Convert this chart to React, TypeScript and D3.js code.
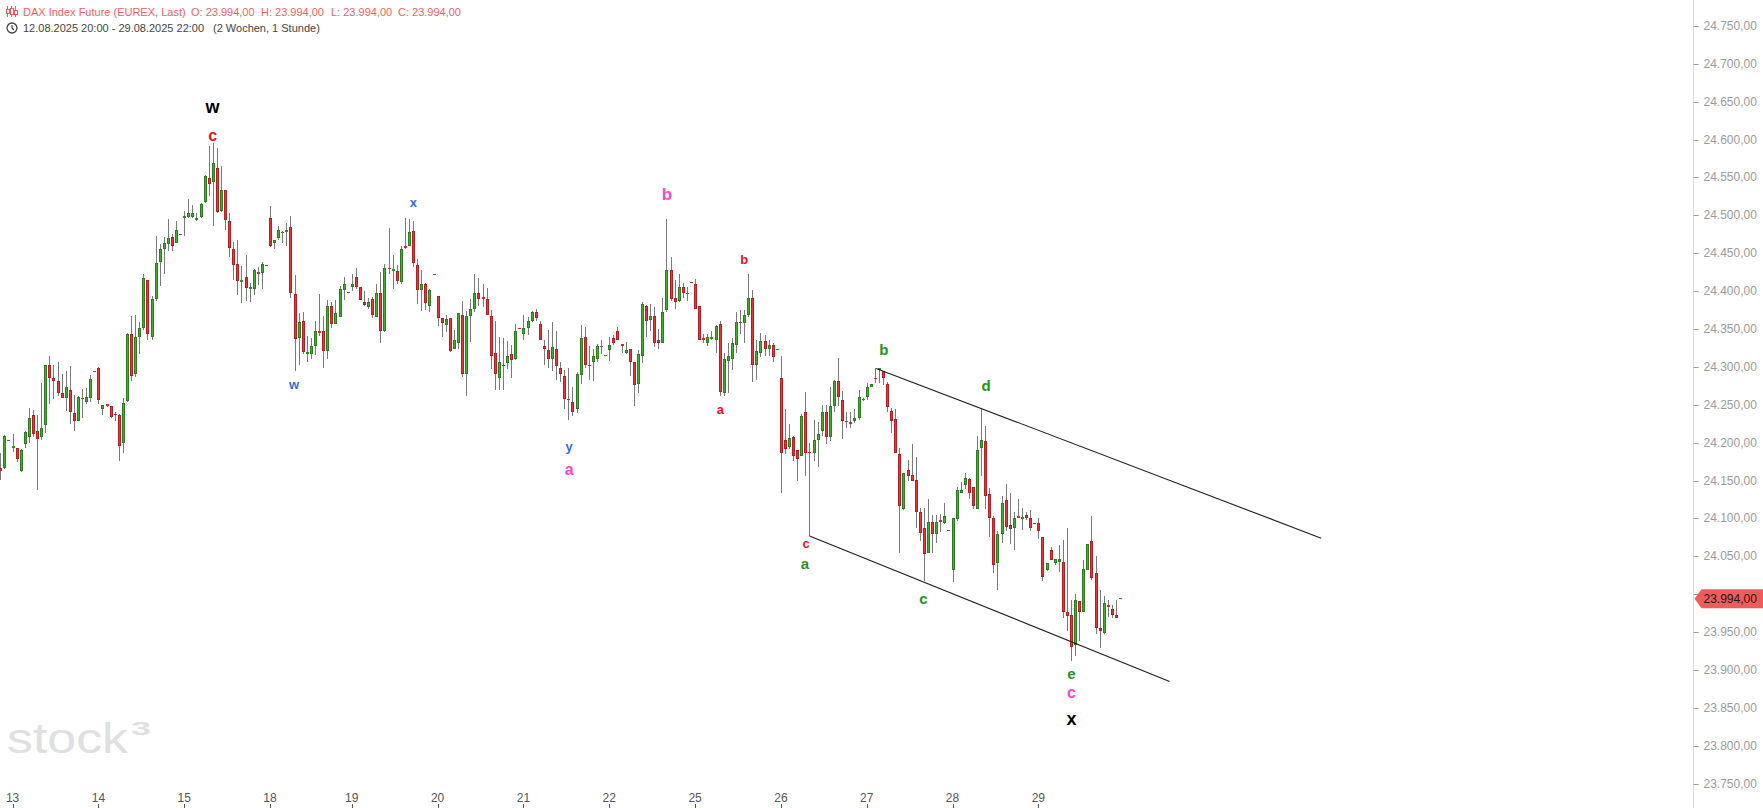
import React from 'react';
import * as d3 from 'd3';

const W = 1763;
const H = 808;

// OHLC per hourly candle (12.08.2025 20:00 – 29.08.2025 22:00)
const opens = [
24166,24166,24203,24193,24193,24162,24198,24208,24237,24216,24208,24224,24302,24286,24282,24265,24259,24270,24239,24229,
24259,24254,24259,24294,24299,24245,24251,24249,24238,24237,24199,24255,24343,24290,24339,24352,24415,24339,24390,24438,
24455,24462,24472,24463,24475,24496,24498,24498,24494,24498,24517,24549,24544,24563,24506,24533,24492,24455,24436,24412,
24418,24403,24403,24425,24424,24434,24496,24463,24470,24478,24478,24484,24396,24338,24361,24317,24317,24327,24348,24347,
24321,24380,24357,24366,24402,24399,24406,24419,24406,24385,24379,24390,24366,24397,24347,24431,24427,24427,24412,24459,
24460,24480,24434,24401,24409,24381,24422,24393,24364,24355,24364,24323,24331,24368,24290,24367,24377,24398,24392,24389,
24367,24318,24286,24303,24305,24317,24311,24352,24344,24351,24360,24372,24357,24328,24322,24311,24323,24298,24288,24258,
24254,24244,24289,24340,24302,24306,24310,24326,24316,24322,24338,24347,24330,24318,24323,24306,24277,24314,24381,24362,
24367,24335,24331,24375,24428,24391,24387,24406,24397,24412,24410,24381,24338,24331,24337,24335,24357,24265,24308,24310,
24329,24359,24358,24368,24391,24302,24318,24334,24324,24329,24323,24286,24204,24194,24208,24190,24183,24241,24188,24187,
24204,24216,24241,24208,24249,24282,24256,24229,24227,24228,24232,24256,24260,24274,24286,24296,24294,24278,24242,24231,
24185,24112,24164,24157,24151,24108,24087,24054,24096,24079,24098,24094,24085,24032,24099,24133,24144,24152,24141,24113,
24193,24202,24132,24101,24041,24080,24125,24091,24087,24103,24099,24104,24101,24094,24094,24075,24032,24059,24041,24042,
24043,23976,23972,23933,23991,23976,24032,24070,24028,23955,23949,23986,23981,23972,23995,
];
const highs = [
24186,24210,24203,24211,24193,24192,24216,24246,24243,24237,24279,24303,24314,24303,24306,24291,24295,24301,24263,24261,
24271,24272,24289,24294,24300,24250,24251,24249,24240,24238,24259,24345,24367,24368,24359,24423,24415,24393,24473,24462,
24471,24495,24476,24492,24475,24506,24521,24514,24503,24516,24553,24591,24595,24589,24565,24533,24503,24465,24467,24433,
24448,24411,24429,24432,24439,24434,24512,24467,24486,24479,24490,24499,24421,24371,24373,24341,24338,24361,24396,24367,
24388,24386,24388,24407,24418,24399,24423,24430,24406,24400,24391,24392,24410,24425,24436,24483,24448,24434,24460,24496,
24495,24492,24442,24428,24411,24403,24423,24393,24364,24368,24364,24349,24371,24387,24374,24390,24423,24417,24409,24404,
24375,24361,24339,24338,24334,24329,24357,24352,24368,24366,24374,24376,24360,24336,24349,24359,24347,24306,24296,24298,
24273,24293,24355,24353,24328,24324,24330,24336,24316,24340,24342,24353,24330,24333,24324,24306,24322,24386,24382,24383,
24379,24350,24391,24495,24445,24415,24423,24411,24406,24412,24416,24381,24343,24343,24347,24355,24360,24318,24332,24338,
24372,24375,24375,24423,24402,24336,24345,24342,24336,24332,24323,24314,24244,24225,24209,24191,24238,24267,24200,24230,
24227,24250,24250,24274,24283,24312,24268,24240,24240,24245,24270,24259,24279,24278,24298,24298,24295,24280,24246,24245,
24193,24160,24177,24198,24181,24114,24114,24126,24105,24105,24106,24120,24085,24101,24142,24148,24160,24154,24142,24209,
24244,24222,24140,24103,24083,24129,24146,24133,24108,24126,24114,24109,24111,24094,24101,24076,24041,24063,24046,24065,
24072,24087,23992,24000,23991,24045,24066,24103,24050,24006,23998,23993,23986,23993,23995,
];
const lows = [
24151,24165,24202,24188,24175,24161,24193,24200,24208,24137,24203,24213,24251,24258,24262,24259,24242,24225,24216,24228,
24233,24251,24254,24293,24251,24237,24247,24233,24229,24176,24187,24254,24282,24287,24317,24349,24335,24335,24387,24407,
24422,24453,24453,24463,24474,24473,24497,24497,24492,24497,24516,24525,24486,24503,24505,24481,24445,24415,24395,24384,
24387,24386,24395,24408,24403,24433,24458,24455,24467,24464,24459,24391,24295,24303,24317,24307,24311,24316,24341,24299,
24311,24352,24356,24366,24388,24398,24400,24403,24388,24381,24377,24364,24366,24332,24346,24422,24403,24410,24410,24456,
24460,24432,24383,24374,24375,24373,24421,24354,24340,24346,24320,24323,24324,24287,24261,24333,24373,24381,24379,24368,
24297,24270,24270,24270,24297,24286,24309,24351,24336,24342,24359,24361,24335,24302,24299,24295,24283,24280,24245,24230,
24235,24239,24278,24299,24283,24281,24307,24317,24315,24308,24329,24335,24318,24317,24288,24248,24266,24305,24340,24347,
24326,24324,24331,24373,24387,24377,24386,24391,24387,24411,24377,24335,24331,24327,24335,24319,24261,24262,24266,24296,
24319,24344,24332,24366,24280,24283,24313,24314,24314,24307,24322,24134,24185,24192,24176,24150,24183,24156,24077,24176,
24168,24209,24198,24202,24241,24248,24205,24220,24220,24226,24230,24255,24256,24274,24279,24279,24276,24240,24213,24186,
24055,24111,24149,24149,24088,24070,24017,24054,24055,24067,24082,24093,24084,24016,24097,24133,24139,24126,24113,24113,
24156,24113,24076,24028,24005,24068,24084,24066,24059,24100,24085,24098,24084,24093,24073,24018,24031,24045,24038,24030,
23968,23952,23912,23919,23938,23976,24032,24019,23948,23929,23947,23970,23968,23968,23994,
];
const closes = [
24162,24209,24202,24196,24178,24191,24214,24232,24212,24205,24220,24302,24286,24282,24266,24259,24274,24240,24228,24260,
24257,24260,24284,24293,24256,24250,24248,24234,24237,24195,24252,24343,24288,24339,24352,24417,24343,24390,24437,24455,
24463,24470,24460,24481,24474,24499,24503,24503,24497,24515,24552,24541,24569,24505,24533,24494,24457,24435,24414,24415,
24404,24405,24428,24423,24436,24433,24459,24467,24481,24477,24481,24397,24337,24359,24320,24320,24328,24348,24345,24321,
24380,24356,24371,24403,24410,24398,24410,24406,24388,24382,24386,24368,24397,24348,24431,24430,24429,24414,24456,24457,
24478,24437,24401,24410,24384,24401,24421,24364,24358,24363,24321,24336,24371,24291,24367,24377,24397,24389,24389,24368,
24314,24290,24306,24302,24315,24309,24347,24351,24351,24360,24373,24364,24335,24324,24311,24326,24301,24290,24257,24257,
24241,24291,24338,24302,24301,24314,24328,24328,24315,24329,24332,24335,24327,24322,24307,24276,24317,24383,24360,24367,
24332,24332,24372,24428,24390,24385,24406,24398,24398,24411,24377,24335,24336,24340,24339,24354,24267,24310,24314,24331,
24359,24358,24369,24391,24302,24321,24334,24324,24329,24313,24322,24186,24192,24206,24183,24179,24235,24187,24187,24204,
24212,24241,24207,24249,24282,24260,24228,24228,24225,24233,24260,24258,24273,24277,24284,24298,24286,24247,24228,24186,
24116,24160,24156,24150,24109,24081,24053,24096,24079,24095,24095,24103,24084,24100,24138,24137,24154,24133,24116,24190,
24204,24129,24101,24039,24079,24121,24089,24086,24101,24100,24102,24100,24087,24093,24084,24023,24041,24045,24046,24046,
23976,23971,23931,23993,23976,24033,24066,24021,23955,23951,23988,23983,23972,23969,23994,
];

const dayLabels = ['13', '14', '15', '18', '19', '20', '21', '22', '25', '26', '27', '28', '29'];
const dayStartIdx = [3, 24, 45, 66, 86, 107, 128, 149, 170, 191, 212, 233, 254];
const priceTicks = d3.range(23750, 24751, 50);
const lastPrice = 23994;

const headerTitle = 'DAX Index Future (EUREX, Last)';
const headerOHLC = ['O: 23.994,00', 'H: 23.994,00', 'L: 23.994,00', 'C: 23.994,00'];
const headerRange = '12.08.2025 20:00 - 29.08.2025 22:00';
const headerPeriod = '(2 Wochen, 1 Stunde)';

// wave labels: text, candle index position, price position, colour, size
const waveText = ['w', 'c', 'x', 'w', 'b', 'b', 'a', 'y', 'a', 'c', 'a', 'b', 'd', 'c', 'e', 'c', 'x'];
const waveIdx = [51.9, 52, 101.1, 71.9, 163.1, 182.0, 176.2, 139.2, 139.2, 197.2, 196.9, 216.2, 241.2, 225.9, 262.1, 262.1, 262.1];
const wavePrice = [24643, 24606, 24517, 24277, 24528, 24442, 24244, 24195, 24165, 24067, 24041, 24323, 24275, 23995, 23895, 23870, 23836];
const waveColor = ['#000000', '#e8141b', '#2f6fd6', '#2f6fd6', '#ff45cf', '#e8141b', '#e8141b', '#2f6fd6', '#ff45cf', '#e8141b', '#1c951c', '#1c951c', '#1c951c', '#1c951c', '#1c951c', '#ff45cf', '#000000'];
const waveSize = [18, 16, 13, 13, 17, 13, 13, 13, 16, 13, 15, 15, 15, 15, 15, 16, 18];

const upperChannel: [number, number][] = [[214.3, 24298], [323.2, 24074]];
const lowerChannel: [number, number][] = [[198.0, 24077], [286.1, 23885]];

const FONT = '"Liberation Sans", Arial, Helvetica, sans-serif';

const deLocale = d3.formatLocale({ decimal: ',', thousands: '.', grouping: [3], currency: ['', '€'] });
const fmtPrice = deLocale.format(',.2f');

export default function App() {
  const x = d3.scaleLinear().domain([0, 274]).range([0.3, 1120.1]);
  const y = d3.scaleLinear().domain([23750, 24750]).range([783.7, 25.9]);
  const axisX = 1693.5;

  const candles = opens.map((o, i) => {
    const c = closes[i];
    const h = highs[i];
    const l = lows[i];
    const up = c > o;
    const R = Math.round(x(i));
    const top = Math.round(y(Math.max(o, c)));
    const bot = Math.round(y(Math.min(o, c)));
    const bh = Math.max(1, bot - top);
    const wt = Math.round(y(h));
    const wb = Math.round(y(l));
    const border = up ? '#2b7d1f' : '#b51d22';
    const fill = up ? '#3fb02c' : '#e8363b';
    return (
      <g key={i}>
        {wb - wt > bh && <rect x={R} y={wt} width={1} height={Math.max(1, wb - wt)} fill="#7a7a7a" />}
        <rect x={R - 1} y={top} width={3} height={bh} fill={bh <= 2 ? (up ? '#2f8f22' : '#d22a2f') : border} />
        {bh > 2 && <rect x={R} y={top + 1} width={1} height={bh - 2} fill={fill} />}
      </g>
    );
  });

  const lineGen = d3.line<[number, number]>().x((d) => x(d[0])).y((d) => y(d[1]));

  const lpY = y(lastPrice);
  const visibleTicks = priceTicks.filter((p) => Math.abs(y(p) - lpY) > 12);

  return (
    <svg
      width={W}
      height={H}
      viewBox={`0 0 ${W} ${H}`}
      style={{ position: 'absolute', left: 0, top: 0, background: '#ffffff' }}
      fontFamily={FONT}
    >
      <rect x={0} y={0} width={W} height={H} fill="#ffffff" />

      {/* watermark */}
      <text x={7} y={753} fontSize={42} fill="#e0e0e0" textLength={121} lengthAdjust="spacingAndGlyphs" fontFamily={FONT}>
        stock
      </text>
      <text x={131} y={735} fontSize={19} fontWeight="bold" fill="#e0e0e0" textLength={20} lengthAdjust="spacingAndGlyphs">
        3
      </text>

      {/* header */}
      <g>
        <g stroke="#ee5a5a" strokeWidth={1} fill="none" shapeRendering="crispEdges">
          <line x1={7.5} y1={6} x2={7.5} y2={17} />
          <rect x={6} y={9.5} width={3} height={4} fill="#ffffff" />
          <line x1={11.5} y1={6} x2={11.5} y2={17} />
          <rect x={10} y={8.5} width={3} height={6} fill="#ffffff" />
          <line x1={15.5} y1={6} x2={15.5} y2={17} />
          <rect x={14} y={10.5} width={3} height={4} fill="#ffffff" />
        </g>
        <circle cx={12} cy={28} r={5} fill="none" stroke="#444" strokeWidth={1.3} />
        <path d="M12 25 V28 L14 30" fill="none" stroke="#444" strokeWidth={1.2} />
        <text x={23} y={16} fontSize={11} fill="#f05f5f">
          {headerTitle}
        </text>
        {headerOHLC.map((t, k) => (
          <text key={t + k} x={[191, 261, 331, 398][k]} y={16} fontSize={11} fill="#f05f5f">
            {t}
          </text>
        ))}
        <text x={23} y={32} fontSize={11} fill="#444444">
          {headerRange}
        </text>
        <text x={213} y={32} fontSize={11} fill="#444444">
          {headerPeriod}
        </text>
      </g>

      {/* candles */}
      <g shapeRendering="crispEdges">{candles}</g>

      {/* channel lines */}
      <path d={lineGen(upperChannel) || ''} stroke="#1e1e1e" strokeWidth={1.1} fill="none" />
      <path d={lineGen(lowerChannel) || ''} stroke="#1e1e1e" strokeWidth={1.1} fill="none" />

      {/* wave labels */}
      {waveText.map((t, k) => (
        <text
          key={k}
          x={x(waveIdx[k])}
          y={y(wavePrice[k])}
          fontSize={waveSize[k]}
          fontWeight="bold"
          fill={waveColor[k]}
          textAnchor="middle"
          dominantBaseline="central"
        >
          {t}
        </text>
      ))}

      {/* price axis */}
      <line x1={axisX} y1={0} x2={axisX} y2={H} stroke="#dcdcdc" strokeWidth={1} />
      {priceTicks.map((p) => (
        <line key={'t' + p} x1={axisX} x2={axisX + 5} y1={Math.round(y(p)) + 0.5} y2={Math.round(y(p)) + 0.5} stroke="#9a9a9a" />
      ))}
      {visibleTicks.map((p) => (
        <text key={p} x={1703.5} y={y(p)} fontSize={12} fill="#9b9b9b" dominantBaseline="central">
          {fmtPrice(p)}
        </text>
      ))}
      <path
        d={`M${axisX + 1} ${lpY} L${axisX + 8} ${lpY - 9.5} H${W} V${lpY + 9.5} H${axisX + 8} Z`}
        fill="#f05b5b"
      />
      <text x={1703.5} y={lpY} fontSize={12} fill="#1a1a1a" dominantBaseline="central">
        {fmtPrice(lastPrice)}
      </text>

      {/* date axis */}
      {dayStartIdx.map((di, k) => (
        <g key={k}>
          <line x1={Math.round(x(di)) + 0.5} x2={Math.round(x(di)) + 0.5} y1={804} y2={H} stroke="#555" />
          <text x={x(di)} y={798} fontSize={12} fill="#555555" textAnchor="middle" dominantBaseline="central">
            {dayLabels[k]}
          </text>
        </g>
      ))}
    </svg>
  );
}
